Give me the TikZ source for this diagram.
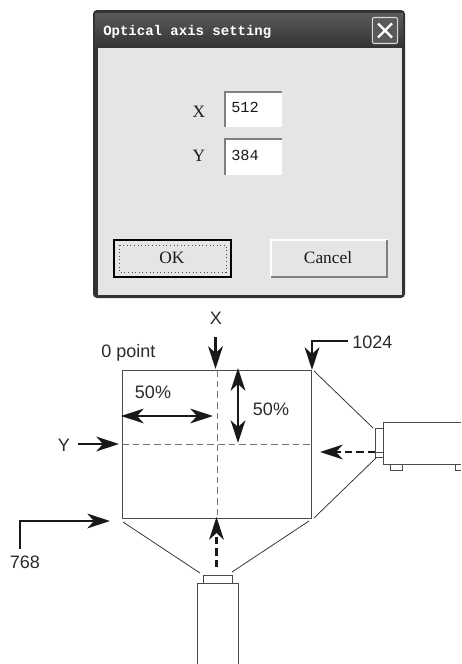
\documentclass[tikz,border=0pt]{standalone}
\usepackage{fontspec}
\setmainfont{Liberation Sans}
\newfontfamily\uimono{Liberation Mono}
\newfontfamily\uiserif{Liberation Serif}
\usetikzlibrary{arrows.meta}
\definecolor{ink}{HTML}{2B2B2B}
\definecolor{face}{HTML}{E5E5E5}
\definecolor{barA}{HTML}{5A5A5A}
\definecolor{barB}{HTML}{333333}
\tikzset{
  x=0.75pt,y=-0.75pt,
  lab/.style={font=\fontsize{13.5pt}{15pt}\selectfont,text=ink,inner sep=0pt,anchor=center},
  thinl/.style={draw=ink,line width=0.55pt},
  boxl/.style={draw=ink!85,line width=0.75pt},
  thick arrow/.style={draw=black!90,line width=1.8pt,-{Stealth[length=17pt,width=11pt,inset=5pt]}},
  both arrow/.style={draw=black!90,line width=1.8pt,{Stealth[length=17pt,width=11pt,inset=5pt]}-{Stealth[length=17pt,width=11pt,inset=5pt]}},
  dash arrow/.style={thick arrow,dash pattern=on 5.5pt off 3pt},
  guide/.style={draw=ink!65,line width=0.65pt,dash pattern=on 5pt off 3pt},
  uibtn/.style={fill=face,draw=white,line width=0.8pt},
  uitxt/.style={font=\uiserif\fontsize{13pt}{14pt}\selectfont,inner sep=0pt,text=black!90},
  fieldtxt/.style={font=\uimono\fontsize{11.5pt}{12pt}\selectfont,inner sep=0pt,text=black!90},
}
\begin{document}
\begin{tikzpicture}
\useasboundingbox (0,0) rectangle (461,664);
\fill[white] (0,0) rectangle (461,664);
% dialog
\fill[rounded corners=3pt,barB] (93,10) rectangle (405,298);
\fill[top color=barA,bottom color=barB] (95,13) rectangle (403,48);
\fill[face] (98,48) rectangle (402,295);
\node[font=\uimono\bfseries\fontsize{10.5pt}{12pt}\selectfont,text=white,inner sep=0pt,anchor=west] (title) at (103,32) {Optical axis setting};
\node[draw=white!85!black,line width=0.8pt,fill=barA,rounded corners=1.5pt,minimum width=19pt,minimum height=19.5pt,inner sep=0pt] (closebox) at (385,30.5) {};
\draw[white,line width=1.7pt] (378,23.5) -- (392,37.5) (392,23.5) -- (378,37.5);
\node[uitxt] (xl) at (199,112) {X};
\node[uitxt] (yl) at (199,156) {Y};
\fill[white] (225,92) rectangle (282,127);
\draw[gray,line width=1pt] (225,127) -- (225,92) -- (282,92);
\fill[white] (225,139) rectangle (282,175);
\draw[gray,line width=1pt] (225,175) -- (225,139) -- (282,139);
\node[fieldtxt,anchor=west] (xv) at (231,107) {512};
\node[fieldtxt,anchor=west] (yv) at (231,155) {384};
\fill[face,draw=black,line width=1.1pt] (114,240) rectangle (231,277);
\draw[black!70,line width=0.7pt,dotted] (119,245) rectangle (226,272);
\node[uitxt] (ok) at (172,258) {OK};
\fill[uibtn] (271,240) rectangle (387,277);
\draw[gray,line width=1pt] (271,277) -- (387,277) -- (387,240);
\node[uitxt] (cancel) at (328,258) {Cancel};
% labels
\node[lab] (xt) at (216,318) {X};
\node[lab,anchor=west] (zero) at (101,353) {0 point};
\node[lab,anchor=west] (k) at (352,342) {1024};
\node[lab] (p1) at (153,392) {50\%};
\node[lab] (p2) at (271,409) {50\%};
\node[lab] (yt) at (64,445) {Y};
\node[lab] (r) at (25,562) {768};
% screen
\draw[boxl] (122,370) rectangle (311,518);
\draw[guide] (217,370) -- (217,518);
\draw[guide] (122,444) -- (311,444);
% projectors
\draw[boxl] (461,422) -- (383,422) -- (383,464) -- (461,464);
\draw[boxl] (375,428) rectangle (383,457);
\draw[boxl] (375,452) -- (383,452);
\draw[boxl] (390,464) rectangle (402,470.5);
\draw[boxl] (461,470.5) -- (455.5,470.5) -- (455.5,464);
\draw[boxl] (203,575) rectangle (232,583);
\draw[boxl] (197,664) -- (197,583) -- (238,583) -- (238,664);
% beams
\draw[thinl] (314,371) -- (373,428);
\draw[thinl] (314,518) -- (376,458);
\draw[thinl] (123,522) -- (200,573);
\draw[thinl] (309,521) -- (232,572);
% arrows
\coordinate (xa) at (215.5,337); \coordinate (xb) at (215.5,369);
\draw[thick arrow] (xa) -- (xb);
\coordinate (ka) at (348,341); \coordinate (kb) at (312,341); \coordinate (kc) at (312,370);
\draw[thick arrow] (ka) -- (kb) -- (kc);
\coordinate (ha) at (121,416); \coordinate (hb) at (213,416);
\draw[both arrow] (ha) -- (hb);
\coordinate (va) at (238,368); \coordinate (vb) at (238,443);
\draw[both arrow] (va) -- (vb);
\coordinate (ya) at (78,444); \coordinate (yb) at (119,444);
\draw[thick arrow] (ya) -- (yb);
\coordinate (ra) at (20,549); \coordinate (rb) at (20,521); \coordinate (rc) at (110,521);
\draw[thick arrow] (ra) -- (rb) -- (rc);
\coordinate (pa) at (375,452); \coordinate (pb) at (320,452);
\draw[dash arrow] (pa) -- (pb);
\coordinate (qa) at (216.5,567); \coordinate (qb) at (216.5,517);
\draw[dash arrow] (qa) -- (qb);
\end{tikzpicture}
\end{document}
